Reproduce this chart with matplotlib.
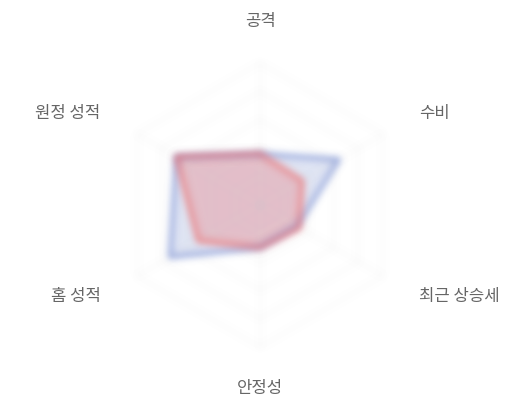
import numpy as np
import matplotlib
matplotlib.use("Agg")
import matplotlib.pyplot as plt

plt.rcParams['font.family'] = ['Noto Sans CJK KR', 'DejaVu Sans']

categories = ['공격', '수비', '최근 상승세', '안정성', '홈 성적', '원정 성적']
series_blue = [36, 64, 30, 30, 73, 68]
series_red = [36, 34, 32, 30, 50, 68]
max_value = 100
grid_levels = [20, 40, 60, 80, 100]


def make_blur(sigma):
    def _filter(im, dpi):
        pad = int(np.ceil(3 * sigma))
        src = np.pad(im, [(pad, pad), (pad, pad), (0, 0)], "constant")
        x = np.arange(-pad, pad + 1)
        k = np.exp(-0.5 * (x / sigma) ** 2)
        k /= k.sum()
        pm = src.copy()
        pm[:, :, :3] *= pm[:, :, 3:4]
        for axis in (0, 1):
            pm = np.apply_along_axis(lambda v: np.convolve(v, k, mode='same'), axis, pm)
        out = np.empty_like(pm)
        a = pm[:, :, 3]
        safe = np.where(a > 1e-6, a, 1.0)
        out[:, :, :3] = np.clip(pm[:, :, :3] / safe[:, :, None], 0, 1)
        out[:, :, 3] = np.clip(a, 0, 1)
        return out, -pad, -pad
    return _filter


W, H = 520, 400
fig = plt.figure(figsize=(W / 100, H / 100), dpi=100)
cx, cy, R = 260, 205, 142
ax = fig.add_axes([(cx - R) / W, (H - cy - R) / H, 2 * R / W, 2 * R / H], projection='polar')
ax.set_theta_zero_location('N')
ax.set_theta_direction(-1)
ax.set_ylim(0, max_value)
ax.set_xticks([])
ax.set_yticks([])
ax.grid(False)
ax.spines['polar'].set_visible(False)
ax.patch.set_alpha(0)

n = len(categories)
angles = np.linspace(0, 2 * np.pi, n, endpoint=False)
closed = np.concatenate([angles, angles[:1]])

blur_grid = make_blur(3.0)
for lv in grid_levels:
    ln, = ax.plot(closed, [lv] * (n + 1), color='#dcdcdc', lw=1.0, alpha=0.28)
    ln.set_agg_filter(blur_grid)
for a in angles:
    ln, = ax.plot([a, a], [0, max_value], color='#dcdcdc', lw=1.0, alpha=0.28)
    ln.set_agg_filter(blur_grid)

blur = make_blur(3.6)
for vals, col, fa, la in [(series_blue, '#5470c6', 0.18, 0.55), (series_red, '#ee6666', 0.3, 0.7)]:
    v = np.array(vals + vals[:1], dtype=float)
    f = ax.fill(closed, v, color=col, alpha=fa, lw=0)
    for p in f:
        p.set_agg_filter(blur)
    ln, = ax.plot(closed, v, color=col, lw=3.5, alpha=la)
    ln.set_agg_filter(blur)

label_r = max_value * 184 / 142
for a, name in zip(angles, categories):
    s = np.sin(a)
    ha = 'center' if abs(s) < 1e-6 else ('left' if s > 0 else 'right')
    ax.text(a, label_r, name, ha=ha, va='center', fontsize=12, color='#666666')

fig.savefig('out.png', dpi=100, facecolor='white')
